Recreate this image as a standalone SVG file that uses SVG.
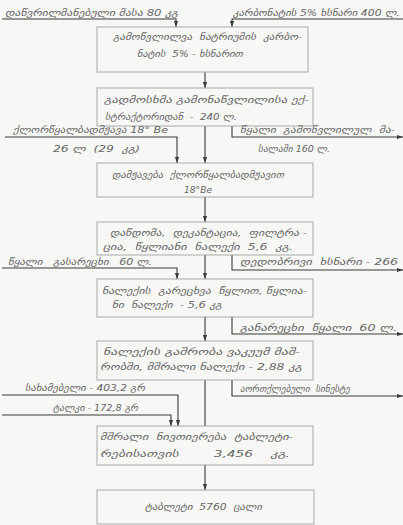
<svg xmlns="http://www.w3.org/2000/svg" width="403" height="525" viewBox="0 0 403 525">
<defs>
<style>
.bg{fill:#f7f7f5}
.box{fill:none;stroke:#a0a0a0;stroke-width:0.9}
.ln{fill:none;stroke:#3a3a3a;stroke-width:1.1}
text{font-family:"DejaVu Sans",sans-serif;font-size:9.5px;font-style:italic;fill:#666}
</style>
<marker id="ah" viewBox="0 0 10 10" refX="10" refY="5" markerWidth="6" markerHeight="6" markerUnits="userSpaceOnUse" orient="auto">
<path d="M0,1.5 L10,5 L0,8.5 Z" fill="#3a3a3a"/>
</marker>
</defs>
<rect class="bg" x="0" y="0" width="403" height="525"/>
<g id="connectors">
<path class="ln" d="M2,19 H176 V27" marker-end="url(#ah)"/>
<path class="ln" d="M403,19 H232 V27" marker-end="url(#ah)"/>
<path class="ln" d="M205,72 V88" marker-end="url(#ah)"/>
<path class="ln" d="M205,126 V163" marker-end="url(#ah)"/>
<path class="ln" d="M5,137 H177 V163" marker-end="url(#ah)"/>
<path class="ln" d="M232,126 V137 H403" marker-end="url(#ah)"/>
<path class="ln" d="M205,197 V222" marker-end="url(#ah)"/>
<path class="ln" d="M205,255 V279" marker-end="url(#ah)"/>
<path class="ln" d="M2,268 H177 V279" marker-end="url(#ah)"/>
<path class="ln" d="M232,255 V270 H403" marker-end="url(#ah)"/>
<path class="ln" d="M205,317 V341" marker-end="url(#ah)"/>
<path class="ln" d="M232,317 V334 H403" marker-end="url(#ah)"/>
<path class="ln" d="M205,380 V426"/>
<path class="ln" d="M232,380 V396 H403" marker-end="url(#ah)"/>
<path class="ln" d="M2,395 H178 V426" marker-end="url(#ah)"/>
<path class="ln" d="M2,415 H171 V426" marker-end="url(#ah)"/>
<path class="ln" d="M205,465 V490" marker-end="url(#ah)"/>
</g>
<g id="in-top-left"><text x="5" y="16" textLength="173" lengthAdjust="spacingAndGlyphs">დაწვრილმანებული მასა 80 კგ</text></g>
<g id="in-top-right"><text x="233" y="16" textLength="167" lengthAdjust="spacingAndGlyphs">კარბონატის 5% ხსნარი 400 ლ.</text></g>
<g id="box1">
<rect class="box" x="97" y="27" width="211" height="45"/>
<text x="113" y="40" textLength="189" lengthAdjust="spacingAndGlyphs" xml:space="preserve">გამოწვლილვა  ნატრიუმის  კარბო-</text>
<text x="137" y="57" textLength="106" lengthAdjust="spacingAndGlyphs" xml:space="preserve">ნატის  5% - ხსნარით</text>
</g>
<g id="box2">
<rect class="box" x="97" y="88" width="216" height="38"/>
<text x="104" y="103" textLength="205" lengthAdjust="spacingAndGlyphs">გადმოსხმა გამონაწვლილისა ექ-</text>
<text x="105" y="120" textLength="132" lengthAdjust="spacingAndGlyphs" xml:space="preserve">სტრაქტორიდან  -  240 ლ.</text>
</g>
<g id="in-acid">
<text x="13" y="133" textLength="155" lengthAdjust="spacingAndGlyphs">ქლორწყალბადმჟავა 18° Be</text>
<text x="53" y="152" textLength="87" lengthAdjust="spacingAndGlyphs" xml:space="preserve">26 ლ  (29  კგ)</text>
</g>
<g id="out-water1">
<text x="240" y="133" textLength="155" lengthAdjust="spacingAndGlyphs" xml:space="preserve">წყალი  გამოწვლილულ  მა-</text>
<text x="258" y="152" textLength="72" lengthAdjust="spacingAndGlyphs">სალაში 160 ლ.</text>
</g>
<g id="box3">
<rect class="box" x="97" y="163" width="216" height="34"/>
<text x="112" y="178" textLength="172" lengthAdjust="spacingAndGlyphs" xml:space="preserve">დამჟავება  ქლორწყალბადმჟავით</text>
<text x="184" y="193" textLength="28" lengthAdjust="spacingAndGlyphs">18°Be</text>
</g>
<g id="box4">
<rect class="box" x="97" y="222" width="216" height="33"/>
<text x="110" y="236" textLength="197" lengthAdjust="spacingAndGlyphs" xml:space="preserve">დაწდომა,  დეკანტაცია,  ფილტრა -</text>
<text x="103" y="250" textLength="190" lengthAdjust="spacingAndGlyphs" xml:space="preserve">ცია,  წყლიანი  ნალექი  5,6  კგ.</text>
</g>
<g id="in-water2"><text x="8" y="265" textLength="144" lengthAdjust="spacingAndGlyphs" xml:space="preserve">წყალი   გასარეცხი   60 ლ.</text></g>
<g id="out-mother"><text x="240" y="265" textLength="158" lengthAdjust="spacingAndGlyphs" xml:space="preserve">დედობრივი  ხსნარი - 266</text></g>
<g id="box5">
<rect class="box" x="97" y="279" width="216" height="38"/>
<text x="102" y="294" textLength="205" lengthAdjust="spacingAndGlyphs" xml:space="preserve">ნალექის  გარეცხვა  წყლით, წყლია-</text>
<text x="112" y="308" textLength="110" lengthAdjust="spacingAndGlyphs" xml:space="preserve">ნი  ნალექი  - 5,6 კგ</text>
</g>
<g id="out-wash"><text x="240" y="331" textLength="157" lengthAdjust="spacingAndGlyphs" xml:space="preserve">განარეცხი  წყალი  60 ლ.</text></g>
<g id="box6">
<rect class="box" x="97" y="341" width="216" height="39"/>
<text x="103" y="355" textLength="197" lengthAdjust="spacingAndGlyphs">ნალექის გაშრობა ვაკუუმ მაშ-</text>
<text x="100" y="370" textLength="202" lengthAdjust="spacingAndGlyphs">რობში, მშრალი ნალექი - 2,88 კგ</text>
</g>
<g id="in-starch"><text x="25" y="391" textLength="120" lengthAdjust="spacingAndGlyphs">სახამებელი - 403,2 გრ</text></g>
<g id="in-talc"><text x="53" y="411" textLength="85" lengthAdjust="spacingAndGlyphs">ტალკი - 172,8 გრ</text></g>
<g id="out-moisture"><text x="240" y="392" textLength="110" lengthAdjust="spacingAndGlyphs" xml:space="preserve">აორთქლებული  სინესტე</text></g>
<g id="box7">
<rect class="box" x="97" y="426" width="216" height="39"/>
<text x="100" y="440" textLength="193" lengthAdjust="spacingAndGlyphs" xml:space="preserve">მშრალი  ნივთიერება  ტაბლეტი-</text>
<text x="100" y="457" textLength="190" lengthAdjust="spacingAndGlyphs" xml:space="preserve">რებისათვის        3,456    კგ.</text>
</g>
<g id="box8">
<rect class="box" x="97" y="490" width="217" height="34"/>
<text x="145" y="510" textLength="117" lengthAdjust="spacingAndGlyphs" xml:space="preserve">ტაბლეტი  5760  ცალი</text>
</g>
</svg>
